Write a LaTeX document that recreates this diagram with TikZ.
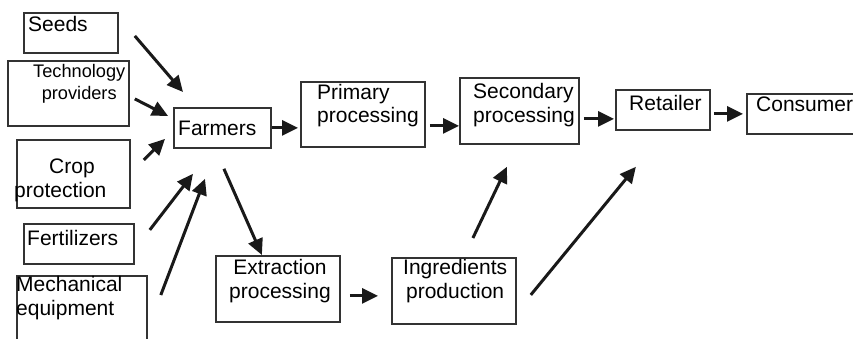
\documentclass[tikz,border=0pt]{standalone}
\usepackage{fontspec}
\setmainfont{Liberation Sans}
\usetikzlibrary{arrows.meta}
\tikzstyle{box} = [rectangle, draw=black!80, line width=1.8pt, anchor=north west, inner sep=0pt]
\tikzstyle{lbl} = [inner sep=0pt, anchor=base west, align=left, font=\fontsize{21}{24}\selectfont]
\tikzstyle{arrow} = [line width=3pt, draw=black!90, -{Triangle[length=16pt,width=15pt]}]

\begin{document}
\begin{tikzpicture}[x=1pt,y=1pt]
	\useasboundingbox (0,0) rectangle (853,338);
	% inputs
	\node (seeds) [box, minimum width=94pt, minimum height=40pt] at (23,326) {};
	\node (tech) [box, minimum width=121pt, minimum height=65pt] at (7,278) {};
	\node (crop) [box, minimum width=113pt, minimum height=68pt] at (16,199) {};
	\node (fert) [box, minimum width=110pt, minimum height=40pt] at (23,115) {};
	\node (mech) [box, minimum width=130pt, minimum height=83pt] at (16,63) {};
	% chain
	\node (farmers) [box, minimum width=97pt, minimum height=40pt] at (173,231) {};
	\node (primary) [box, minimum width=124pt, minimum height=65pt] at (300,257) {};
	\node (secondary) [box, minimum width=119pt, minimum height=66pt] at (459,261) {};
	\node (retailer) [box, minimum width=94pt, minimum height=40pt] at (615,249) {};
	\node (consumer) [box, minimum width=124pt, minimum height=40pt] at (746,245) {};
	\node (extraction) [box, minimum width=124pt, minimum height=66pt] at (215,83) {};
	\node (ingredients) [box, minimum width=124pt, minimum height=66pt] at (391,81) {};
	% texts (multi-line ones sit on their last line)
	\node (seedsT) [lbl] at (28,306) {Seeds};
	\node (techT) [lbl, align=center, font=\fontsize{18.2}{22}\selectfont] at (33,238) {Technology\\providers};
	\node (cropT) [lbl] at (14,141) {\hspace*{35pt}Crop\\protection};
	\node (fertT) [lbl] at (27,93) {Fertilizers};
	\node (mechT) [lbl] at (16,23) {Mechanical\\equipment};
	\node (farmersT) [lbl] at (178,203) {Farmers};
	\node (primaryT) [lbl] at (317,215) {Primary\\processing};
	\node (secondaryT) [lbl] at (473,216) {Secondary\\processing};
	\node (retailerT) [lbl] at (629,228) {Retailer};
	\node (consumerT) [lbl] at (756,226) {Consumer};
	\node (extractionT) [lbl, align=center] at (229,40) {Extraction\\processing};
	\node (ingredientsT) [lbl, align=center] at (403,40) {Ingredients\\production};
	% arrows
	\draw [arrow] ([shift={(16,-3)}]seeds.east) -- ([shift={(10,15)}]farmers.north west);
	\draw [arrow] ([shift={(5,-5.5)}]tech.east) -- ([shift={(-5,12)}]farmers.west);
	\draw [arrow] ([shift={(13,14)}]crop.east) -- ([shift={(-8,-11)}]farmers.west);
	\draw [arrow] ([shift={(15,14)}]fert.east) -- ([shift={(20,-25)}]farmers.south west);
	\draw [arrow] ([shift={(13,-20)}]mech.north east) -- ([shift={(32,-30)}]farmers.south west);
	\draw [arrow, shorten >=2pt] (farmers.east) -- (farmers.east -| primary.west);
	\draw [arrow, shorten <=4pt] ([yshift=-11.5]primary.east) -- ([yshift=-11.5]primary.east -| secondary.west);
	\draw [arrow, shorten <=4pt, shorten >=1pt] ([yshift=-8]secondary.east) -- ([yshift=-8]secondary.east -| retailer.west);
	\draw [arrow, shorten <=3pt, shorten >=3pt] (retailer.east |- consumer.west) -- (consumer.west);
	\draw [arrow] ([shift={(1.5,-20)}]farmers.south) -- ([shift={(-16,0)}]extraction.north);
	\draw [arrow, shorten <=9pt, shorten >=13pt] ([yshift=-7]extraction.east) -- ([yshift=-7]extraction.east -| ingredients.west);
	\draw [arrow] ([shift={(19,19)}]ingredients.north) -- ([shift={(-12.5,-22)}]secondary.south);
	\draw [arrow] ([shift={(14,-4)}]ingredients.east) -- ([shift={(-27,-36)}]retailer.south);
\end{tikzpicture}
\end{document}
